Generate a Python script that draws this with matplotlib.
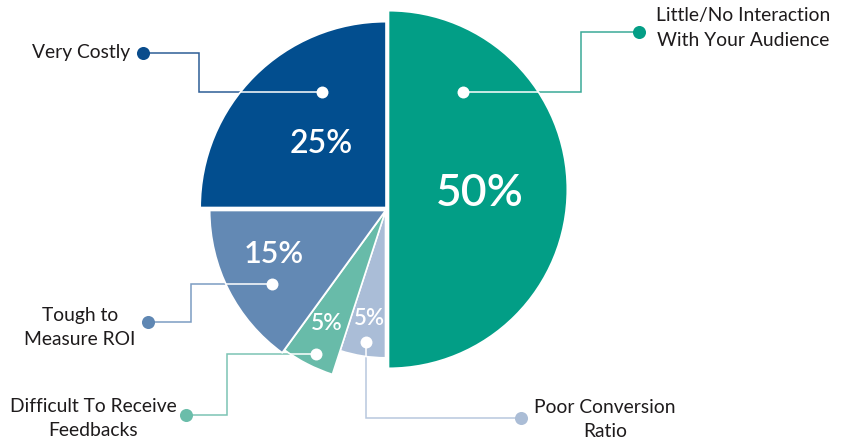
import matplotlib
matplotlib.use("Agg")
import matplotlib.pyplot as plt

# Share of respondents naming each drawback
categories = [
    "Little/No Interaction\nWith Your Audience",
    "Poor Conversion\nRatio",
    "Difficult To Receive\nFeedbacks",
    "Tough to\nMeasure ROI",
    "Very Costly",
]
shares = [50, 5, 5, 15, 25]

# Styling per slice (same order as categories)
slice_colors = ["#029E86", "#AABDD7", "#68BBA9", "#6389B4", "#024E8F"]
dot_colors = ["#049E86", "#ABBDD6", "#6BBDAA", "#5F87B3", "#0A4C8C"]
line_colors = ["#3BAA97", "#B8C8DE", "#7CC4B4", "#7C9CC2", "#2D5E96"]

# Geometry in pixel space (y grows downward)
slice_centers = [(388.5, 189.5), (385.5, 211), (385.5, 211), (385.5, 210.5), (386, 207.5)]
slice_radii = [178, 146, 171, 175, 185]

pct_pos = [(480, 206.5), (369, 325), (327, 330), (274, 262.7), (321, 153.3)]
pct_size = [32, 16, 16.5, 22, 23]

# connector path: inner white dot -> elbows -> outer coloured dot
connectors = [
    [(463.3, 92.3), (581, 92.3), (581, 32.3), (638.7, 32.3)],
    [(366, 342), (366, 417.7), (521, 417.7)],
    [(316, 354), (226.7, 354), (226.7, 415), (186, 415)],
    [(271.7, 284), (190.7, 284), (190.7, 321.7), (147.7, 321.7)],
    [(321.7, 91.7), (199.3, 91.7), (199.3, 53.3), (142.7, 53.3)],
]
label_pos = [(743, 28, "center"), (605, 419.5, "center"), (93, 419, "center"),
             (80, 327.5, "center"), (130, 52.3, "right")]

W, H = 843, 441
fig = plt.figure(figsize=(W / 100, H / 100), dpi=100)
ax = fig.add_axes([0, 0, 1, 1])

wedges, _ = ax.pie(shares, startangle=-90, counterclock=True, colors=slice_colors,
                   wedgeprops=dict(edgecolor="white", linewidth=1.2))
for w, c, r in zip(wedges, slice_centers, slice_radii):
    w.set_center(c)
    w.set_radius(r + 0.8)
    w.set_zorder(1)

ax.set_xlim(0, W)
ax.set_ylim(H, 0)
ax.set_aspect("equal")
ax.axis("off")

for i, (w, path) in enumerate(zip(wedges, connectors)):
    xs = [p[0] for p in path]
    ys = [p[1] for p in path]
    ax.plot(xs, ys, color=line_colors[i], lw=1.1, zorder=0.5, solid_joinstyle="miter")
    inner, = ax.plot(xs, ys, color="white", lw=1.1, zorder=2, solid_joinstyle="miter")
    inner.set_clip_path(w)
    ax.plot(xs[0], ys[0], "o", ms=8.6, color="white", mec="none", zorder=3)
    ax.plot(xs[-1], ys[-1], "o", ms=9.4, color=dot_colors[i], mec="none", zorder=3)

for i, v in enumerate(shares):
    x, y = pct_pos[i]
    ax.text(x, y, f"{v}%", color="white", fontsize=pct_size[i], family="Lato",
            weight="semibold", ha="center", va="baseline", zorder=4)

for name, (x, y, ha) in zip(categories, label_pos):
    ax.text(x, y, name, color="#1E1B1C", fontsize=13.9, family="Lato",
            ha=ha, va="center", multialignment="center", linespacing=1.5, zorder=4)

fig.savefig("out.png", dpi=100, facecolor="white")
